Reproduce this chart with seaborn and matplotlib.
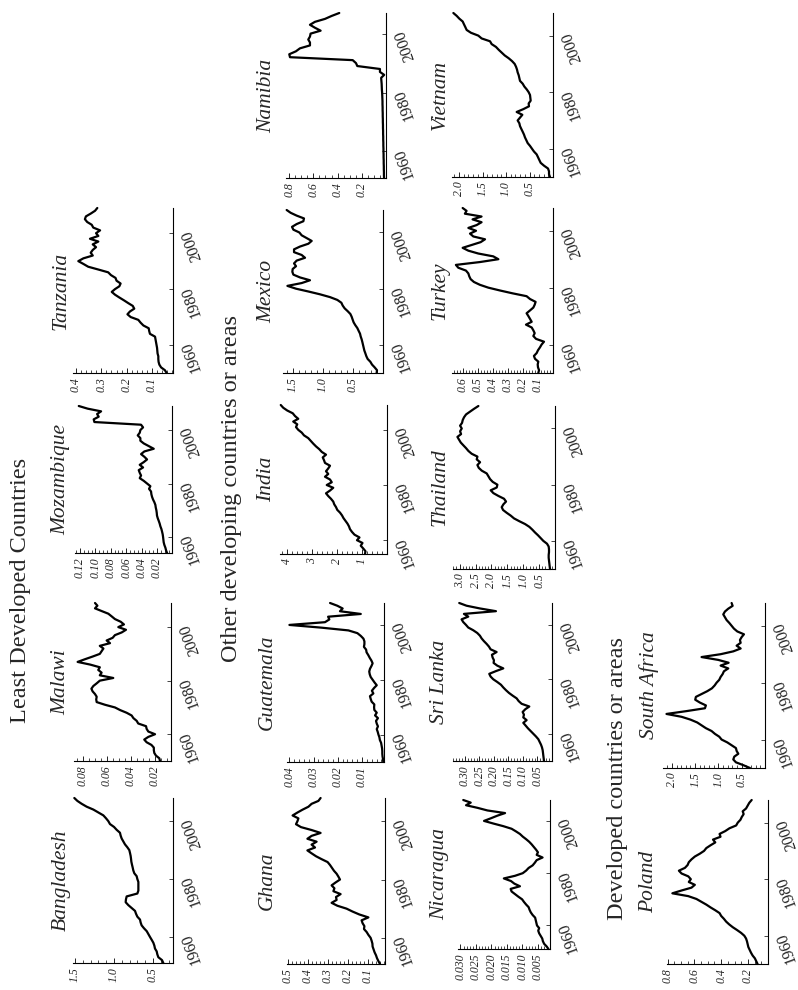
import numpy as np
import matplotlib
matplotlib.use("Agg")
import matplotlib.pyplot as plt
from matplotlib.ticker import MultipleLocator
import seaborn as sns

# ---------------- data ----------------
countries = ["Bangladesh", "Malawi", "Mozambique", "Tanzania",
             "Ghana", "Guatemala", "India", "Mexico", "Namibia",
             "Nicaragua", "Sri Lanka", "Thailand", "Turkey", "Vietnam",
             "Poland", "South Africa"]

start_year = {"Bangladesh": 1951, "Malawi": 1950, "Mozambique": 1954, "Tanzania": 1950,
              "Ghana": 1951, "Guatemala": 1950, "India": 1955, "Mexico": 1950,
              "Namibia": 1951, "Nicaragua": 1951, "Sri Lanka": 1950, "Thailand": 1950,
              "Turkey": 1950, "Vietnam": 1950, "Poland": 1950, "South Africa": 1950}

bangladesh = [0.368, 0.385, 0.432, 0.445, 0.453, 0.475, 0.483, 0.496, 0.517, 0.539,
              0.56, 0.581, 0.616, 0.646, 0.659, 0.667, 0.701, 0.718, 0.731, 0.774,
              0.817, 0.851, 0.847, 0.838, 0.701, 0.688, 0.688, 0.688, 0.688, 0.701,
              0.71, 0.74, 0.753, 0.761, 0.77, 0.778, 0.782, 0.787, 0.795, 0.804,
              0.83, 0.86, 0.881, 0.902, 0.915, 0.924, 0.966, 1.0, 1.052, 1.073,
              1.103, 1.137, 1.201, 1.265, 1.351, 1.415, 1.47, 1.509]
malawi = [0.0159, 0.0164, 0.0192, 0.0206, 0.021, 0.021, 0.023, 0.027, 0.029, 0.0256,
          0.020, 0.0256, 0.027, 0.0275, 0.034, 0.0353, 0.038, 0.0395, 0.0436, 0.049,
          0.0534, 0.0617, 0.0686, 0.069, 0.0686, 0.07, 0.072, 0.073, 0.0714, 0.0686,
          0.066, 0.0548, 0.066, 0.0645, 0.0673, 0.066, 0.074, 0.0845, 0.0784, 0.072,
          0.066, 0.0645, 0.063, 0.066, 0.0575, 0.0603, 0.0553, 0.0534, 0.0478, 0.0442,
          0.0506, 0.0459, 0.0486, 0.0534, 0.0561, 0.0589, 0.0645, 0.07, 0.068, 0.07]
mozambique = [0.0069, 0.0082, 0.0091, 0.0104, 0.0113, 0.0117,
              0.0121, 0.0126, 0.0134, 0.0143, 0.0156, 0.0165, 0.0177, 0.019, 0.02, 0.0203,
              0.0208, 0.0216, 0.0221, 0.0234, 0.0251, 0.0264, 0.0273, 0.0277, 0.0303, 0.0286,
              0.0329, 0.0372, 0.0424, 0.0407, 0.0424, 0.0437, 0.0381, 0.0424, 0.0372, 0.0329,
              0.0364, 0.0407, 0.0364, 0.0242, 0.0307, 0.0372, 0.0416, 0.0416, 0.045, 0.0424,
              0.0416, 0.0381, 0.0407, 0.1013, 0.1022, 0.0957, 0.0978, 0.0926, 0.11, 0.1216]
tanzania = [0.042, 0.049, 0.064, 0.071, 0.074, 0.075, 0.075, 0.078, 0.079, 0.080,
            0.082, 0.084, 0.086, 0.088, 0.108, 0.111, 0.113, 0.134, 0.145, 0.154,
            0.184, 0.197, 0.187, 0.17, 0.176, 0.194, 0.211, 0.229, 0.246, 0.259,
            0.246, 0.229, 0.224, 0.24, 0.244, 0.262, 0.273, 0.312, 0.352, 0.371,
            0.391, 0.371, 0.334, 0.342, 0.334, 0.321, 0.334, 0.312, 0.345, 0.312,
            0.321, 0.305, 0.332, 0.338, 0.356, 0.365, 0.361, 0.342, 0.325, 0.316]
ghana = [0.04, 0.048, 0.055, 0.06, 0.067, 0.072, 0.077, 0.078, 0.082, 0.087,
         0.098, 0.107, 0.12, 0.118, 0.127, 0.132, 0.098, 0.143, 0.177, 0.207,
         0.253, 0.282, 0.257, 0.26, 0.237, 0.273, 0.268, 0.282, 0.262, 0.24,
         0.248, 0.257, 0.27, 0.28, 0.29, 0.302, 0.332, 0.36, 0.382, 0.403,
         0.365, 0.382, 0.357, 0.403, 0.382, 0.337, 0.382, 0.435, 0.46, 0.453,
         0.448, 0.477, 0.453, 0.427, 0.398, 0.382, 0.348, 0.337]
guatemala = [0.0012, 0.0013, 0.0015, 0.0016, 0.0016, 0.0017, 0.0019, 0.0021, 0.0026, 0.0028,
             0.0032, 0.0035, 0.0039, 0.0034, 0.0039, 0.0042, 0.0034, 0.0046, 0.0039, 0.0049,
             0.005, 0.0049, 0.006, 0.0064, 0.0067, 0.0053, 0.0059, 0.005, 0.0039, 0.0048,
             0.0056, 0.0064, 0.0068, 0.007, 0.0067, 0.0061, 0.0056, 0.0061, 0.0068, 0.0074,
             0.0081, 0.0083, 0.0092, 0.009, 0.009, 0.0094, 0.0105, 0.0119, 0.0156, 0.0267,
             0.040, 0.0253, 0.0235, 0.024, 0.0105, 0.0191, 0.018, 0.0202, 0.0232]
india = [0.88, 0.86, 0.95, 1.05, 0.98,
         1.2, 1.1, 1.3, 1.4, 1.48, 1.52, 1.58, 1.66, 1.74, 1.8,
         1.88, 1.99, 2.04, 2.11, 2.15, 2.24, 2.35, 2.44, 2.28, 2.15,
         2.41, 2.21, 2.28, 2.48, 2.35, 2.44, 2.35, 2.28, 2.48, 2.52,
         2.57, 2.44, 2.61, 2.71, 2.84, 2.95, 3.05, 3.15, 3.32, 3.41,
         3.55, 3.64, 3.59, 3.75, 3.55, 3.68, 3.77, 3.99, 4.15, 4.25]
mexico = [0.106, 0.1, 0.139, 0.183, 0.211, 0.256, 0.278, 0.294, 0.311, 0.322,
          0.333, 0.344, 0.356, 0.372, 0.383, 0.406, 0.428, 0.461, 0.489, 0.506,
          0.522, 0.544, 0.589, 0.639, 0.672, 0.694, 0.761, 0.883, 1.05, 1.244,
          1.45, 1.594, 1.356, 1.217, 1.383, 1.494, 1.511, 1.506, 1.45, 1.483,
          1.439, 1.3, 1.356, 1.483, 1.483, 1.383, 1.244, 1.189, 1.272, 1.356,
          1.394, 1.494, 1.517, 1.439, 1.328, 1.317, 1.439, 1.539, 1.606]
namibia = [0.016, 0.017, 0.017, 0.018, 0.018, 0.019, 0.019, 0.02, 0.02, 0.021,
           0.021, 0.022, 0.022, 0.023, 0.023, 0.024, 0.024, 0.025, 0.025, 0.026,
           0.026, 0.027, 0.027, 0.028, 0.028, 0.029, 0.029, 0.03, 0.031, 0.032,
           0.034, 0.035, 0.036, 0.038, 0.04, 0.015, 0.05, 0.05, 0.237, 0.248,
           0.275, 0.793, 0.799, 0.744, 0.711, 0.628, 0.628, 0.642, 0.628, 0.623,
           0.54, 0.587, 0.628, 0.587, 0.504, 0.449, 0.386]
nicaragua = [0.0016, 0.0022, 0.003, 0.0034, 0.0036, 0.0041, 0.0046, 0.0049, 0.0046, 0.0053,
             0.0055, 0.0057, 0.0059, 0.0067, 0.0073, 0.0077, 0.008, 0.0088, 0.0095, 0.0101,
             0.0113, 0.0124, 0.0135, 0.0138, 0.0108, 0.0126, 0.0137, 0.016, 0.0124, 0.0099,
             0.0088, 0.008, 0.0067, 0.006, 0.0054, 0.0035, 0.0054, 0.005, 0.0056, 0.0063,
             0.007, 0.0078, 0.0088, 0.0099, 0.0108, 0.0121, 0.0135, 0.0162, 0.0194, 0.0224,
             0.0202, 0.0181, 0.0156, 0.0213, 0.0245, 0.0282, 0.0267, 0.0291]
sri_lanka = [0.0276, 0.0287, 0.0299, 0.031, 0.0322, 0.0345, 0.0379, 0.0425, 0.0471, 0.0552,
             0.0644, 0.0736, 0.0828, 0.0908, 0.0989, 0.0874, 0.0989, 0.0966, 0.1011, 0.092,
             0.0782, 0.1046, 0.1149, 0.1218, 0.1356, 0.1483, 0.1586, 0.1678, 0.1759, 0.1885,
             0.2023, 0.2115, 0.2161, 0.1931, 0.1678, 0.1885, 0.2011, 0.2, 0.2046, 0.2069,
             0.1908, 0.2115, 0.2172, 0.2253, 0.2345, 0.2425, 0.2483, 0.2575, 0.2713, 0.2885,
             0.2966, 0.3057, 0.3115, 0.2885, 0.3034, 0.1931, 0.2483, 0.2943, 0.3195]
thailand = [0.157, 0.168, 0.178, 0.189, 0.199, 0.199, 0.189, 0.189, 0.199, 0.252,
            0.367, 0.451, 0.535, 0.629, 0.713, 0.807, 0.943, 1.122, 1.289, 1.394,
            1.52, 1.635, 1.677, 1.625, 1.541, 1.604, 1.782, 1.939, 2.023, 1.834,
            1.813, 1.96, 2.044, 2.096, 2.149, 2.306, 2.4, 2.442, 2.358, 2.463,
            2.442, 2.621, 2.725, 2.799, 2.883, 2.966, 3.019, 3.071, 2.956, 2.987,
            2.935, 2.987, 2.925, 2.904, 2.862, 2.799, 2.673, 2.547, 2.411]
turkey = [0.098, 0.093, 0.1, 0.102, 0.098, 0.12, 0.127, 0.109, 0.1, 0.087,
          0.076, 0.06, 0.113, 0.131, 0.122, 0.131, 0.142, 0.18, 0.142, 0.153,
          0.164, 0.176, 0.153, 0.131, 0.122, 0.116, 0.153, 0.176, 0.269, 0.353,
          0.431, 0.487, 0.527, 0.549, 0.558, 0.564, 0.58, 0.631, 0.647, 0.487,
          0.364, 0.398, 0.498, 0.564, 0.602, 0.542, 0.482, 0.453, 0.531, 0.553,
          0.513, 0.564, 0.509, 0.476, 0.536, 0.476, 0.587, 0.576, 0.602]
vietnam = [0.064, 0.085, 0.085, 0.106, 0.191, 0.262, 0.291, 0.319, 0.348, 0.404,
           0.447, 0.489, 0.539, 0.567, 0.596, 0.617, 0.645, 0.674, 0.702, 0.716,
           0.752, 0.702, 0.652, 0.773, 0.631, 0.511, 0.518, 0.475, 0.482, 0.489,
           0.518, 0.56, 0.61, 0.645, 0.702, 0.716, 0.73, 0.752, 0.766, 0.787,
           0.816, 0.872, 0.943, 1.028, 1.092, 1.156, 1.213, 1.305, 1.34, 1.518,
           1.589, 1.745, 1.837, 1.865, 1.894, 1.922, 1.993, 2.05, 2.12]
poland = [0.128, 0.138, 0.148, 0.165, 0.177, 0.187, 0.197, 0.202, 0.207, 0.214,
          0.227, 0.251, 0.281, 0.313, 0.34, 0.363, 0.38, 0.4, 0.412, 0.444,
          0.479, 0.511, 0.548, 0.585, 0.646, 0.765, 0.696, 0.622, 0.597, 0.642,
          0.627, 0.646, 0.696, 0.716, 0.671, 0.651, 0.642, 0.622, 0.597, 0.56,
          0.528, 0.511, 0.479, 0.444, 0.461, 0.405, 0.412, 0.37, 0.338, 0.288,
          0.276, 0.256, 0.246, 0.232, 0.239, 0.214, 0.202, 0.19, 0.172]
south_africa = [0.323, 0.466, 0.624, 0.681, 0.659, 0.573, 0.609, 0.624, 0.717, 0.81,
                0.932, 0.982, 1.075, 1.147, 1.269, 1.362, 1.455, 1.599, 1.792, 2.115,
                1.685, 1.29, 1.269, 1.398, 1.498, 1.484, 1.362, 1.24, 1.14, 1.082,
                1.039, 0.982, 0.953, 0.91, 0.882, 0.789, 0.953, 0.781, 1.004, 1.362,
                0.953, 0.681, 0.523, 0.609, 0.523, 0.538, 0.502, 0.452, 0.595, 0.667,
                0.717, 0.767, 0.824, 0.86, 0.896, 0.86, 0.789, 0.695, 0.717]

series = {"Bangladesh": bangladesh, "Malawi": malawi, "Mozambique": mozambique,
          "Tanzania": tanzania, "Ghana": ghana, "Guatemala": guatemala, "India": india,
          "Mexico": mexico, "Namibia": namibia, "Nicaragua": nicaragua,
          "Sri Lanka": sri_lanka, "Thailand": thailand, "Turkey": turkey,
          "Vietnam": vietnam, "Poland": poland, "South Africa": south_africa}

value_ticks = {"Bangladesh": [0.5, 1.0, 1.5], "Malawi": [0.02, 0.04, 0.06, 0.08],
               "Mozambique": [0.02, 0.04, 0.06, 0.08, 0.10, 0.12],
               "Tanzania": [0.1, 0.2, 0.3, 0.4], "Ghana": [0.1, 0.2, 0.3, 0.4, 0.5],
               "Guatemala": [0.01, 0.02, 0.03, 0.04], "India": [1, 2, 3, 4],
               "Mexico": [0.5, 1.0, 1.5], "Namibia": [0.2, 0.4, 0.6, 0.8],
               "Nicaragua": [0.005, 0.010, 0.015, 0.020, 0.025, 0.030],
               "Sri Lanka": [0.05, 0.10, 0.15, 0.20, 0.25, 0.30],
               "Thailand": [0.5, 1.0, 1.5, 2.0, 2.5, 3.0],
               "Turkey": [0.1, 0.2, 0.3, 0.4, 0.5, 0.6],
               "Vietnam": [0.5, 1.0, 1.5, 2.0], "Poland": [0.2, 0.4, 0.6, 0.8],
               "South Africa": [0.5, 1.0, 1.5, 2.0]}
decimals = {"Bangladesh": 1, "Malawi": 2, "Mozambique": 2, "Tanzania": 1, "Ghana": 1,
            "Guatemala": 2, "India": 0, "Mexico": 1, "Namibia": 1, "Nicaragua": 3,
            "Sri Lanka": 2, "Thailand": 1, "Turkey": 1, "Vietnam": 1, "Poland": 1,
            "South Africa": 1}
year_ticks = [1960, 1980, 2000]

groups = ["Least Developed Countries", "Other developing countries or areas",
          "Developed countries or areas"]

# ---------------- layout (pixel boxes: left, right, top, bottom) ----------------
W, H = 798, 990
box = {"Bangladesh": (73, 173, 798, 963), "Malawi": (74, 171, 603, 761),
       "Mozambique": (75, 172, 406, 553), "Tanzania": (73, 173, 208, 373),
       "Ghana": (287, 385, 798, 964), "Guatemala": (287, 384, 603, 762),
       "India": (280, 387, 405, 554), "Mexico": (283, 383, 210, 373),
       "Namibia": (286, 386, 13, 178), "Nicaragua": (458, 550, 800, 949),
       "Sri Lanka": (453, 552, 603, 761), "Thailand": (453, 555, 406, 569),
       "Turkey": (452, 553, 208, 373), "Vietnam": (452, 553, 13, 177),
       "Poland": (667, 768, 800, 964), "South Africa": (663, 765, 603, 768)}
vrange = {"Bangladesh": (0.244, 1.526), "Malawi": (0.0067, 0.0875),
          "Mozambique": (0.0005, 0.1265), "Tanzania": (0.017, 0.412),
          "Ghana": (0.015, 0.505), "Guatemala": (0.0009, 0.041), "India": (0, 4.28),
          "Mexico": (0, 1.667), "Namibia": (0, 0.826), "Nicaragua": (0.0011, 0.0308),
          "Sri Lanka": (0, 0.341), "Thailand": (0, 3.21), "Turkey": (0, 0.673),
          "Vietnam": (0, 2.149), "Poland": (0.05, 0.805), "South Africa": (0, 2.19)}
minor_step = {"Bangladesh": 0.1, "Malawi": 0.005, "Mozambique": 0.005, "Tanzania": 0.02,
              "Ghana": 0.02, "Guatemala": 0.002, "India": 0.2, "Mexico": 0.1,
              "Namibia": 0.05, "Nicaragua": 0.001, "Sri Lanka": 0.01, "Thailand": 0.1,
              "Turkey": 0.02, "Vietnam": 0.1, "Poland": 0.05, "South Africa": 0.1}
title_x = {"Bangladesh": 61, "Malawi": 61, "Mozambique": 61, "Tanzania": 61,
           "Ghana": 267, "Guatemala": 267, "India": 267, "Mexico": 267, "Namibia": 267,
           "Nicaragua": 440, "Sri Lanka": 440, "Thailand": 440, "Turkey": 440,
           "Vietnam": 440, "Poland": 649, "South Africa": 649}
group_pos = [(21, 590), (231, 488), (617, 778)]

sns.set_style("white")
plt.rcParams["font.family"] = ["Liberation Serif", "DejaVu Serif"]

fig = plt.figure(figsize=(W / 100, H / 100), dpi=100)

for name in countries:
    vals = series[name]
    years = np.arange(start_year[name], start_year[name] + len(vals))
    x0, x1, yt, yb = box[name]
    ax = fig.add_axes([x0 / W, 1 - yb / H, (x1 - x0) / W, (yb - yt) / H])
    ax.patch.set_alpha(0)
    sns.lineplot(x=vals, y=years, orient="y", estimator=None, sort=False,
                 color="black", linewidth=1.6, ax=ax, clip_on=False)
    v0, v1 = vrange[name]
    ax.set_xlim(v1, v0)
    ax.set_ylim(years[0], years[-1])
    ax.set_xlabel("")
    ax.set_ylabel("")
    for s in ["top", "left"]:
        ax.spines[s].set_visible(False)
    for s in ["bottom", "right"]:
        ax.spines[s].set_linewidth(0.8)
        ax.spines[s].set_color("black")
    d = decimals[name]
    ax.set_xticks(value_ticks[name],
                  labels=[f"{t:.{d}f}" for t in value_ticks[name]],
                  fontstyle="italic", rotation=90, fontsize=8.5)
    ax.xaxis.set_minor_locator(MultipleLocator(minor_step[name]))
    ax.tick_params(axis="x", which="both", direction="in", bottom=True, top=False,
                   pad=3, color="black")
    ax.tick_params(axis="x", which="major", length=3.5, width=0.6)
    ax.tick_params(axis="x", which="minor", length=2, width=0.5)
    ax.yaxis.tick_right()
    ax.set_yticks(year_ticks, labels=[str(y) for y in year_ticks],
                  rotation=110, fontsize=11.5)
    ax.tick_params(axis="y", which="major", direction="in", left=False, right=True,
                   labelleft=False, labelright=True, length=3, width=0.6, pad=4)
    ax.tick_params(axis="y", which="minor", left=False, right=False)
    cy = (yt + yb) / 2
    fig.text(title_x[name] / W, 1 - cy / H, name, rotation=90, ha="center",
             va="center", fontsize=15.5, fontstyle="italic")

for g, (gx, gy) in zip(groups, group_pos):
    fig.text(gx / W, 1 - gy / H, g, rotation=90, ha="center", va="center",
             fontsize=17.5)

fig.savefig("out.png", dpi=100)
